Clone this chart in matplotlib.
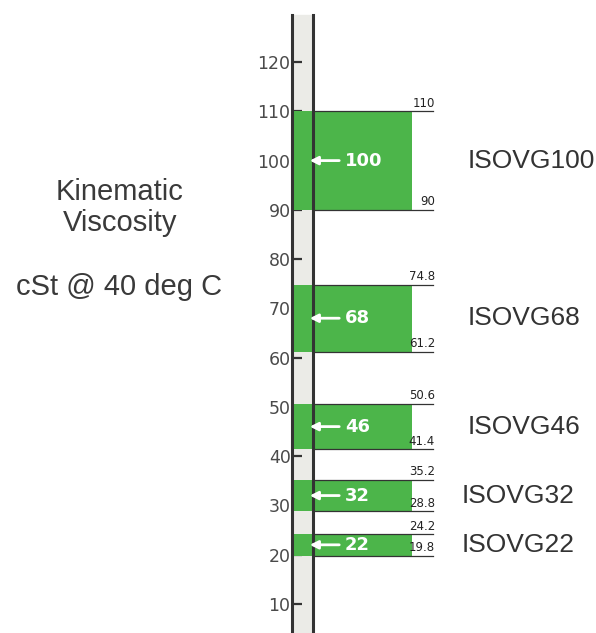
import matplotlib.pyplot as plt

# ISO viscosity grades, nominal value and +/-10% limits
grades = ['ISOVG100', 'ISOVG68', 'ISOVG46', 'ISOVG32', 'ISOVG22']
nominal = [100, 68, 46, 32, 22]
lower = [90, 61.2, 41.4, 28.8, 19.8]
upper = [110, 74.8, 50.6, 35.2, 24.2]
lower_txt = ['90', '61.2', '41.4', '28.8', '19.8']
upper_txt = ['110', '74.8', '50.6', '35.2', '24.2']
yticks = [10, 20, 30, 40, 50, 60, 70, 80, 90, 100, 110, 120]

# x positions in pixel units of the figure
x_axis = 292
x_line2 = 313
x_bar0 = 294
x_bar1 = 412
x_rule1 = 433
label_x = [468, 468, 468, 462, 462]

y_bottom = 4.1
y_top = 132.6
y_scale_top = 129.6

green = '#4cb54a'
dark = '#333333'
big_font = 'Liberation Sans'

fig = plt.figure(figsize=(5.96, 6.33), dpi=100)
ax = fig.add_axes([0, 0, 1, 1])
ax.set_xlim(0, 596)
ax.set_ylim(y_bottom, y_top)

for s in ['top', 'right', 'bottom']:
    ax.spines[s].set_visible(False)
ax.spines['left'].set_position(('data', x_axis))
ax.spines['left'].set_bounds(y_bottom, y_scale_top)
ax.spines['left'].set_linewidth(2.2)
ax.spines['left'].set_color(dark)
ax.spines['left'].set_zorder(4)
ax.set_xticks([])
ax.set_yticks(yticks)
ax.tick_params(axis='y', direction='in', length=7, width=1.6, color=dark,
               pad=1, labelsize=12.5, labelcolor='#4a4a4a')

# gray strip between the two dark lines
ax.fill_betweenx([y_bottom, y_scale_top], x_axis, x_line2, color='#ebebe7', zorder=0)
ax.plot([x_line2, x_line2], [y_bottom, y_scale_top], color=dark, lw=2.2, zorder=4)

for i in range(len(grades)):
    lo, hi, v = lower[i], upper[i], nominal[i]
    ax.bar(x_bar0, hi - lo, width=x_bar1 - x_bar0, bottom=lo, align='edge',
           color=green, zorder=2)
    ax.plot([x_line2, x_rule1], [hi, hi], color=dark, lw=0.9, zorder=3)
    ax.plot([x_line2, x_rule1], [lo, lo], color=dark, lw=0.9, zorder=3)
    ax.text(x_rule1 + 2, hi + 0.3, upper_txt[i], ha='right', va='bottom',
            fontsize=8.5, color='#222222')
    ax.text(x_rule1 + 2, lo + 0.3, lower_txt[i], ha='right', va='bottom',
            fontsize=8.5, color='#222222')
    ax.annotate('', xy=(307, v), xytext=(342, v),
                arrowprops=dict(arrowstyle='-|>', color='white', lw=2,
                                mutation_scale=12), zorder=5)
    ax.text(345, v, str(v), ha='left', va='center', fontsize=13,
            fontweight='bold', color='white', zorder=5)
    ax.text(label_x[i], v, grades[i], ha='left', va='center', fontsize=19,
            family=big_font, color='#333333')

fig.text(120 / 596, 1 - 192 / 633, 'Kinematic', ha='center', va='center',
         fontsize=21, family=big_font, color='#3a3a3a')
fig.text(120 / 596, 1 - 223 / 633, 'Viscosity', ha='center', va='center',
         fontsize=21, family=big_font, color='#3a3a3a')
fig.text(119 / 596, 1 - 287 / 633, 'cSt @ 40 deg C', ha='center', va='center',
         fontsize=21, family=big_font, color='#3a3a3a')

fig.savefig('out.png', dpi=100)
